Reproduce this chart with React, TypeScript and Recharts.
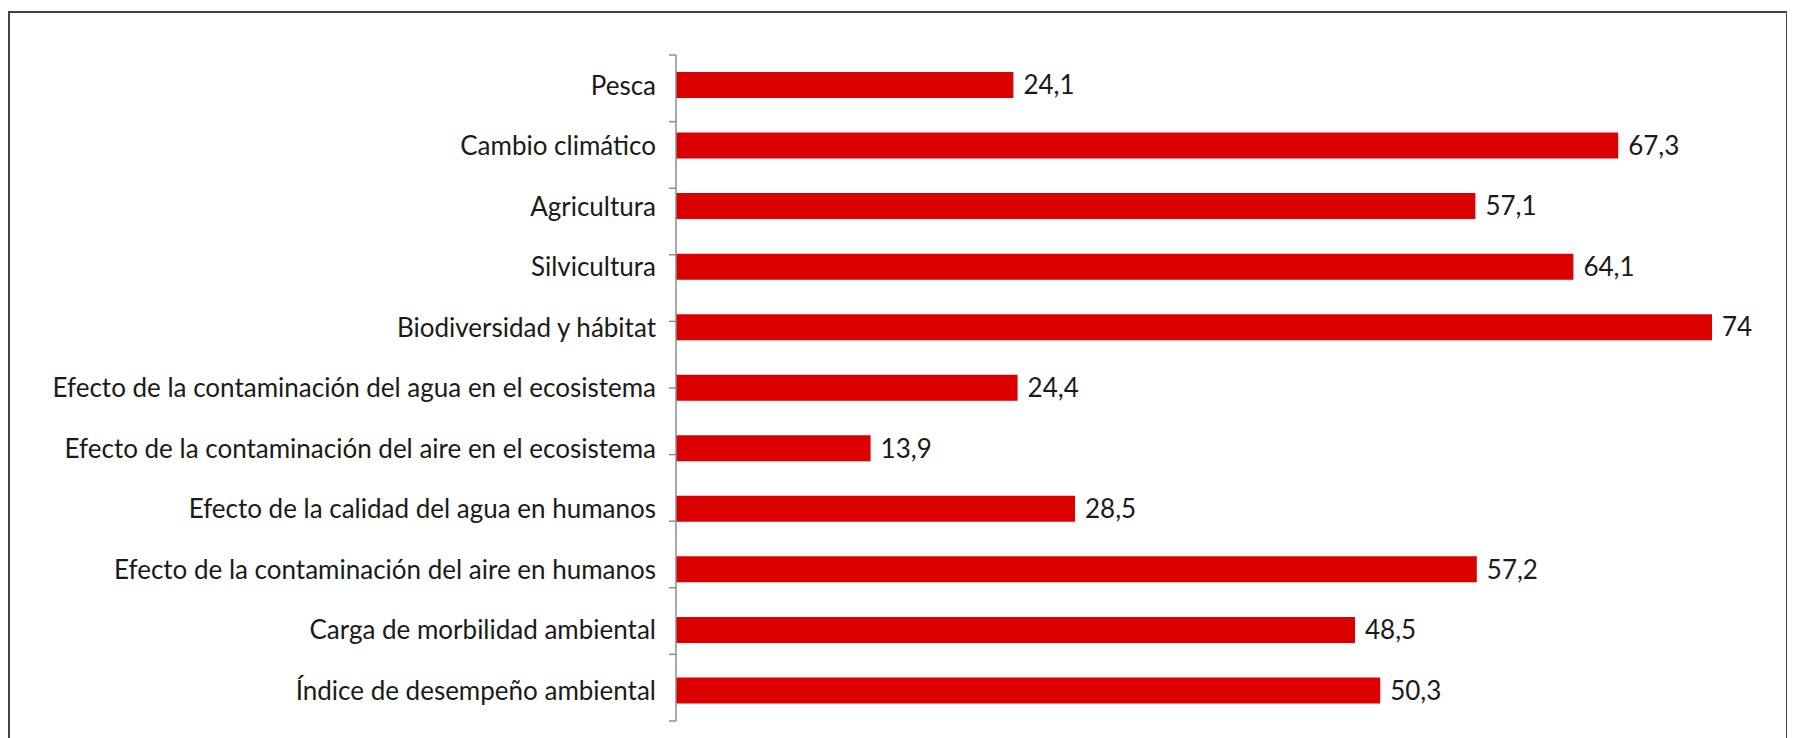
import { BarChart, Bar, XAxis, YAxis, LabelList } from "recharts";

const categories = [
  "Pesca",
  "Cambio climático",
  "Agricultura",
  "Silvicultura",
  "Biodiversidad y hábitat",
  "Efecto de la contaminación del agua en el ecosistema",
  "Efecto de la contaminación del aire en el ecosistema",
  "Efecto de la calidad del agua en humanos",
  "Efecto de la contaminación del aire en humanos",
  "Carga de morbilidad ambiental",
  "Índice de desempeño ambiental",
];

const values = [24.1, 67.3, 57.1, 64.1, 74, 24.4, 13.9, 28.5, 57.2, 48.5, 50.3];

// tick marks between categories (Excel style)
const boundaryTicks = [0, 1, 2, 3, 4, 5, 6, 7, 8, 9, 10, 11];

const data = categories.map((name, i) => ({ name, value: values[i] }));

const fmt = (v: unknown) => String(v).replace(".", ",");

const FONT = "Lato, 'Open Sans', sans-serif";

export default function App() {
  return (
    <div
      style={{
        width: 1776,
        height: 745,
        marginTop: 3,
        border: "2px solid #444",
        background: "#fff",
        fontFamily: FONT,
      }}
    >
      <BarChart
        width={1776}
        height={730}
        layout="vertical"
        data={data}
        margin={{ top: 42, right: 60, bottom: 22, left: 0 }}
        barCategoryGap={0}
      >
        <XAxis type="number" domain={[0, 75]} hide />
        <YAxis
          type="category"
          dataKey="name"
          width={666}
          axisLine={false}
          tickLine={false}
          tickMargin={14}
          interval={0}
          tick={{ fontSize: 26, fill: "#1a1a1a", fontFamily: FONT }}
        />
        <YAxis
          yAxisId="ticks"
          type="number"
          orientation="left"
          mirror
          domain={[0, 11]}
          ticks={boundaryTicks}
          reversed
          width={1}
          tickSize={-7}
          tickFormatter={() => ""}
          axisLine={{ stroke: "#8c8c8c", strokeWidth: 1.5 }}
          tickLine={{ stroke: "#8c8c8c", strokeWidth: 1.5 }}
        />
        <Bar dataKey="value" fill="#dc0000" barSize={26} isAnimationActive={false}>
          <LabelList
            dataKey="value"
            position="right"
            offset={10}
            formatter={fmt}
            style={{ fontSize: 26, fill: "#1a1a1a", fontFamily: FONT }}
          />
        </Bar>
      </BarChart>
    </div>
  );
}
